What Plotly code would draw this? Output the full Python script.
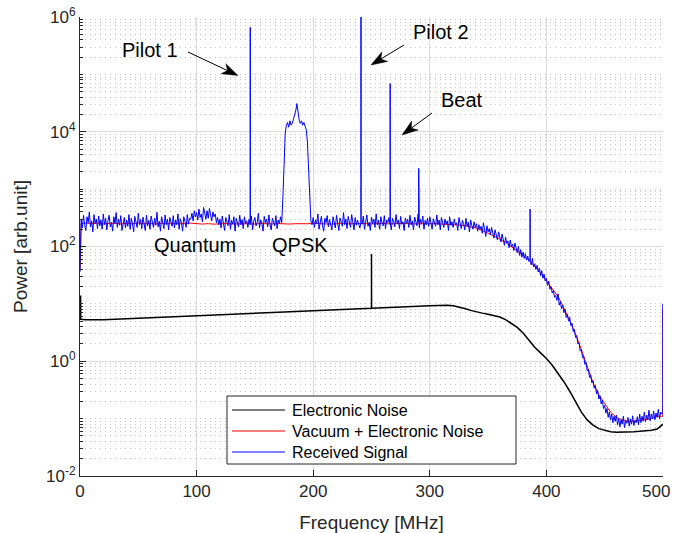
import math
import plotly.graph_objects as go

# ---------------- data ----------------
# Received signal, 1 MHz grid 0..500
blue_freq = list(range(501))
blue_vals = [
    # 0-19
    36, 300, 210, 350, 240, 190, 330, 260, 400, 220, 280, 180, 360, 250, 300, 205, 340, 230, 290, 200,
    # 20-39
    370, 240, 310, 195, 280, 350, 220, 265, 185, 330, 250, 390, 215, 300, 235, 345, 190, 275, 320, 210,
    # 40-59
    290, 225, 360, 200, 310, 250, 180, 335, 270, 215, 380, 240, 295, 205, 325, 260, 190, 350, 230, 285,
    # 60-79
    200, 340, 255, 215, 310, 235, 395, 220, 275, 185, 330, 265, 205, 355, 240, 300, 195, 320, 250, 225,
    # 80-99
    345, 210, 290, 240, 370, 200, 305, 260, 185, 330, 275, 215, 360, 245, 310, 300, 380, 280, 420, 330,
    # 100-119
    390, 290, 450, 320, 370, 270, 480, 340, 300, 420, 310, 460, 350, 280, 400, 330, 370, 260, 320, 240,
    # 120-139
    300, 210, 340, 255, 190, 320, 270, 230, 360, 200, 285, 245, 330, 185, 310, 260, 220, 350, 240, 295,
    # 140-159
    205, 330, 250, 280, 215, 300, 240, 340, 195, 275, 320, 230, 265, 380, 210, 290, 250, 185, 335, 260,
    # 160-179
    300, 220, 355, 240, 195, 310, 270, 230, 345, 205, 290, 250, 330, 260, 700, 3500, 9500, 13000, 14500, 12000,
    # 180-199
    15500, 13000, 14000, 16500, 19000, 23000, 31000, 21000, 16000, 14000, 15500, 13000, 14500, 12500, 11000, 7000, 2500, 600, 280, 240,
    # 200-219
    320, 215, 290, 250, 370, 200, 275, 335, 230, 185, 310, 260, 345, 220, 295, 240, 195, 330, 270, 210,
    # 220-239
    350, 245, 190, 315, 265, 225, 390, 240, 300, 205, 335, 255, 215, 360, 280, 195, 320, 235, 290, 250,
    # 240-259
    210, 300, 245, 340, 200, 280, 355, 225, 265, 190, 325, 250, 300, 215, 370, 240, 285, 200, 330, 260,
    # 260-279
    230, 345, 205, 290, 260, 320, 240, 195, 310, 275, 220, 360, 250, 290, 205, 335, 245, 270, 190, 315,
    # 280-299
    255, 300, 215, 350, 240, 280, 195, 325, 265, 230, 370, 210, 295, 250, 340, 200, 285, 240, 310, 225,
    # 300-319
    330, 250, 200, 305, 270, 225, 355, 240, 290, 195, 320, 260, 215, 300, 245, 280, 190, 330, 235, 270,
    # 320-339
    215, 300, 240, 260, 190, 320, 230, 205, 285, 250, 195, 310, 225, 265, 180, 290, 235, 200, 270, 215,
    # 340-359
    250, 185, 240, 200, 225, 170, 260, 195, 150, 230, 180, 205, 160, 215, 175, 140, 195, 165, 130, 180,
    # 360-379
    150, 120, 165, 130, 105, 145, 115, 125, 95, 130, 100, 110, 85, 115, 90, 78, 100, 70, 88, 65,
    # 380-399
    80, 62, 75, 58, 68, 55, 60, 48, 62, 44, 50, 40, 47, 36, 42, 31, 38, 28, 33, 25,
    # 400-419
    28, 21, 25, 18, 20, 15.5, 17, 13, 14, 11.5, 15, 9.5, 11, 8.2, 9.5, 7, 8, 5.8, 6.6, 5,
    # 420-439
    5.8, 4.2, 4.6, 3.3, 3.6, 2.6, 2.8, 2.0, 2.1, 1.5, 1.6, 1.15, 1.2, 0.88, 0.95, 0.68, 0.72, 0.52, 0.58, 0.42,
    # 440-459
    0.46, 0.34, 0.38, 0.27, 0.31, 0.22, 0.25, 0.18, 0.21, 0.15, 0.17, 0.125, 0.15, 0.105, 0.13, 0.095, 0.12, 0.085, 0.11, 0.09,
    # 460-479
    0.115, 0.078, 0.10, 0.072, 0.095, 0.08, 0.11, 0.07, 0.092, 0.083, 0.105, 0.074, 0.098, 0.08, 0.112, 0.076, 0.094, 0.085, 0.108, 0.078,
    # 480-499
    0.12, 0.085, 0.11, 0.09, 0.13, 0.088, 0.115, 0.095, 0.14, 0.092, 0.12, 0.10, 0.135, 0.095, 0.125, 0.105, 0.145, 0.10, 0.13, 0.12,
    # 500
    0.13,
]
blue_spike_freq = [146.0, 241.0, 266.0, 290.5, 386.0, 500.0]
blue_spike_base = [260, 260, 260, 260, 58, 0.13]
blue_spike_peak = [6.6e5, 1.5e6, 6.9e4, 2300, 450, 10]

# Vacuum + electronic noise
red_freq = [0, 1] + [5 * i for i in range(1, 101)]
red_vals = [
    40, 250,
    255, 250, 258, 248, 252, 255, 247, 253, 250,
    256, 249, 252, 247, 254, 250, 248, 253, 250, 255,
    248, 246, 250, 245, 249, 252, 247, 251, 248, 250,
    246, 252, 249, 247, 251, 248, 246, 250, 247, 249,
    252, 248, 251, 246, 250, 253, 248, 251, 249, 252,
    247, 250, 253, 248, 251, 249, 252, 248, 250, 253,
    249, 250, 246, 244, 240, 236, 230, 222, 210, 190,
    170, 155, 135, 118, 100, 82, 70, 58, 46, 35,
    25, 18, 13.5, 8.5, 5.2, 3.0, 1.6, 0.82, 0.42, 0.26,
    0.18, 0.13, 0.105, 0.095, 0.09, 0.09, 0.093, 0.097, 0.10, 0.11,
    0.11,
]
red_spike_freq = [500.0]
red_spike_base = [0.11]
red_spike_peak = [8]

# Electronic noise, 5 MHz grid 0..500
black_freq = [5 * i for i in range(101)]
black_vals = [
    5.6, 5.3, 5.25, 5.3, 5.3, 5.35, 5.4, 5.4, 5.5, 5.5,
    5.6, 5.6, 5.7, 5.75, 5.8, 5.85, 5.9, 6.0, 6.05, 6.1,
    6.2, 6.25, 6.3, 6.4, 6.45, 6.5, 6.6, 6.65, 6.7, 6.8,
    6.85, 6.9, 7.0, 7.05, 7.1, 7.2, 7.3, 7.35, 7.45, 7.5,
    7.6, 7.7, 7.75, 7.85, 7.9, 8.0, 8.1, 8.15, 8.25, 8.3,
    8.4, 8.5, 8.55, 8.65, 8.75, 8.8, 8.9, 9.0, 9.05, 9.15,
    9.25, 9.35, 9.45, 9.5, 9.3, 8.9, 8.3, 7.7, 7.2, 6.9,
    6.6, 6.3, 5.9, 5.3, 4.6, 3.9, 3.1, 2.3, 1.75, 1.4,
    1.12, 0.85, 0.62, 0.44, 0.30, 0.20, 0.13, 0.095, 0.077, 0.067,
    0.062, 0.059, 0.058, 0.058, 0.058, 0.059, 0.060, 0.061, 0.063, 0.066,
    0.08,
]
black_spike_freq = [0.5, 250.0]
black_spike_base = [5.4, 8.4]
black_spike_peak = [14, 74]

series_names = ["Electronic Noise", "Vacuum + Electronic Noise", "Received Signal"]
series_colors = ["black", "#ff0000", "#0000ff"]

x_tick_vals = [0, 100, 200, 300, 400, 500]
x_tick_text = ["0", "100", "200", "300", "400", "500"]
y_tick_vals = [1e-2, 1e0, 1e2, 1e4, 1e6]
y_tick_text = ["10<sup>-2</sup>", "10<sup>0</sup>", "10<sup>2</sup>", "10<sup>4</sup>", "10<sup>6</sup>"]


def merge_spikes(freq, vals, sf, sb, sp):
    pts = [(f, 1, v) for f, v in zip(freq, vals)]
    for f, b, p in zip(sf, sb, sp):
        pts += [(f - 0.05, 0, b), (f, 1, p), (f + 0.05, 2, b)]
    pts.sort(key=lambda t: (t[0], t[1]))
    return [t[0] for t in pts], [t[2] for t in pts]


bx, by = merge_spikes(blue_freq, blue_vals, blue_spike_freq, blue_spike_base, blue_spike_peak)
rx, ry = merge_spikes(red_freq, red_vals, red_spike_freq, red_spike_base, red_spike_peak)
kx, ky = merge_spikes(black_freq, black_vals, black_spike_freq, black_spike_base, black_spike_peak)

FONT = "Liberation Sans, Arial, Helvetica, sans-serif"
AX = "#262626"

fig = go.Figure()
fig.add_trace(go.Scatter(x=kx, y=ky, mode="lines", name=series_names[0],
                         line=dict(color=series_colors[0], width=1.5)))
fig.add_trace(go.Scatter(x=rx, y=ry, mode="lines", name=series_names[1],
                         line=dict(color=series_colors[1], width=1)))
fig.add_trace(go.Scatter(x=bx, y=by, mode="lines", name=series_names[2],
                         line=dict(color=series_colors[2], width=1)))

# minor log positions
minor_vals = []
for e in range(-2, 6):
    for m in range(2, 10):
        minor_vals.append(m * 10 ** e)
    if e % 2 == 1:
        minor_vals.append(10 ** e)

# the last x label sits at the right page edge; it is drawn as an annotation nudged inside
axis_tick_text = x_tick_text[:-1] + [""]

fig.update_xaxes(
    range=[0, 500], tickvals=x_tick_vals, ticktext=axis_tick_text,
    ticks="inside", ticklen=6, tickcolor=AX,
    showline=True, linecolor=AX, linewidth=1, mirror=False, automargin=False,
    showgrid=True, gridcolor="#dcdcdc", gridwidth=1, zeroline=False,
    tickfont=dict(family=FONT, size=17, color=AX),
    title=dict(text="Frequency [MHz]", font=dict(family=FONT, size=19, color=AX), standoff=20),
)
fig.update_yaxes(
    type="log", range=[-2, 6], tickvals=y_tick_vals, ticktext=y_tick_text,
    ticks="inside", ticklen=6, tickcolor=AX,
    showline=True, linecolor=AX, linewidth=1, mirror=False, automargin=False,
    showgrid=True, gridcolor="#dcdcdc", gridwidth=1, zeroline=False,
    tickfont=dict(family=FONT, size=17, color=AX), ticklabeloverflow="allow",
    title=dict(text="Power [arb.unit]", font=dict(family=FONT, size=19, color=AX), standoff=13),
    minor=dict(tickvals=minor_vals, ticks="inside", ticklen=3, tickcolor=AX,
               showgrid=True, gridcolor="#c4c4c4", griddash="1px,4px", gridwidth=1),
)

ann_font = dict(family=FONT, size=20, color="black")
annotations = [
    dict(x=60, y=5.42, text="Pilot 1", showarrow=False),
    dict(x=309.6, y=5.735, text="Pilot 2", showarrow=False),
    dict(x=327.6, y=4.55, text="Beat", showarrow=False),
    dict(x=98.6, y=2.02, text="Quantum", showarrow=False),
    dict(x=188.7, y=2.02, text="QPSK", showarrow=False),
]
for a in annotations:
    a.update(xref="x", yref="y", font=ann_font)

# layout helpers: pixel positions inside the plot area -> paper coordinates
PL, PT, PW, PH = 80, 17, 583, 459


def to_paper(px, py):
    return (px - PL) / PW, (PT + PH - py) / PH


# last x tick label
lp = to_paper(672, 491)
annotations.append(dict(xref="paper", yref="paper", x=lp[0], y=lp[1], text=x_tick_text[-1],
                        showarrow=False, xanchor="right", yanchor="middle",
                        font=dict(family=FONT, size=17, color=AX)))

shapes = []

# arrows (tail -> tip)
arrows = [((188, 52), (238, 75.5)), ((404, 45), (371, 65)), ((432, 113), (402, 135))]
for (tx, ty), (hx, hy) in arrows:
    dx, dy = hx - tx, hy - ty
    n = math.hypot(dx, dy)
    ux, uy = dx / n, dy / n
    nx, ny = -uy, ux
    L, W = 16, 5.5
    bxp, byp = hx - L * ux, hy - L * uy
    c1 = (bxp + W * nx, byp + W * ny)
    c2 = (bxp - W * nx, byp - W * ny)
    notch = (hx - 0.72 * L * ux, hy - 0.72 * L * uy)
    p0 = to_paper(tx, ty)
    p1 = to_paper(*notch)
    shapes.append(dict(type="line", xref="paper", yref="paper",
                       x0=p0[0], y0=p0[1], x1=p1[0], y1=p1[1],
                       line=dict(color="black", width=1)))
    pts = [to_paper(hx, hy), to_paper(*c1), to_paper(*notch), to_paper(*c2)]
    path = "M " + " L ".join(f"{x:.5f},{y:.5f}" for x, y in pts) + " Z"
    shapes.append(dict(type="path", xref="paper", yref="paper", path=path,
                       fillcolor="black", line=dict(color="black", width=0.5)))

# legend box (MATLAB style), drawn as shapes + text
lx0, ly0 = to_paper(227, 464)
lx1, ly1 = to_paper(516, 396)
shapes.append(dict(type="rect", xref="paper", yref="paper", x0=lx0, y0=ly0, x1=lx1, y1=ly1,
                   fillcolor="white", line=dict(color=AX, width=1), layer="above"))
row_y = [410, 431, 452]
for name, color, ry_px in zip(series_names, series_colors, row_y):
    a0 = to_paper(232, ry_px)
    a1 = to_paper(285, ry_px)
    shapes.append(dict(type="line", xref="paper", yref="paper",
                       x0=a0[0], y0=a0[1], x1=a1[0], y1=a1[1],
                       line=dict(color=color, width=1), layer="above"))
    t = to_paper(290, ry_px)
    annotations.append(dict(xref="paper", yref="paper", x=t[0], y=t[1], text=name,
                            showarrow=False, xanchor="left", yanchor="middle",
                            font=dict(family=FONT, size=16, color="black")))

fig.update_layout(
    width=673, height=533,
    margin=dict(l=80, r=10, t=17, b=57),
    paper_bgcolor="white", plot_bgcolor="white",
    annotations=annotations, shapes=shapes,
    showlegend=False,
)

fig.write_html("out.html", config={"displayModeBar": False},
               post_script="document.body.style.margin='0px';")
